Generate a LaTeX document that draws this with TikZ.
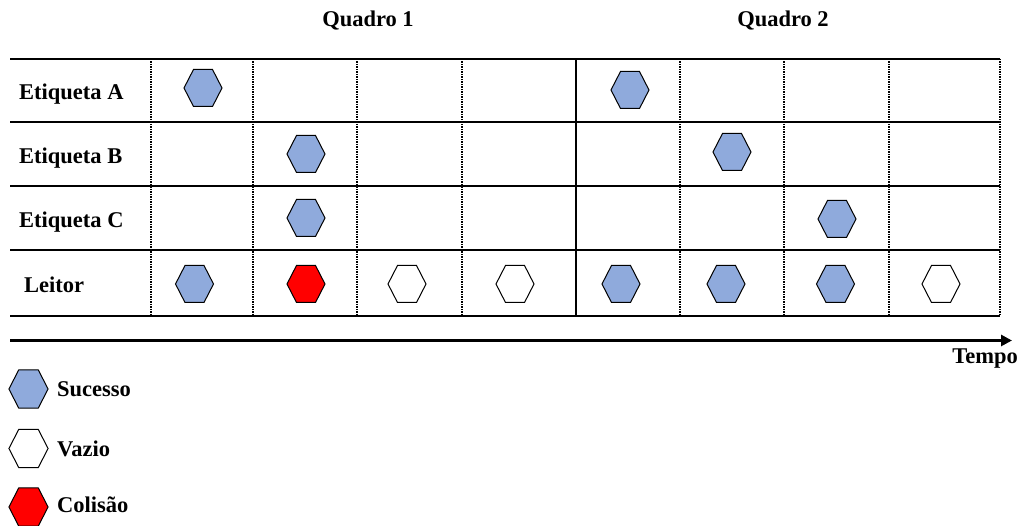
\documentclass[tikz,border=0pt]{standalone}
\usepackage{fontspec}
\setmainfont{Liberation Serif}
\usetikzlibrary{arrows.meta}
\definecolor{sucblue}{HTML}{8FAADC}
\definecolor{colred}{HTML}{FF0000}
\tikzset{
  hexline/.style={draw=black, line width=1pt, line join=miter},
  rowline/.style={line width=2.2pt},
  slotline/.style={line width=1.5pt, dash pattern=on 1.3pt off 1.2pt},
  frameline/.style={line width=2.2pt},
  lbl/.style={font=\bfseries\fontsize{22.5}{26}\selectfont, inner sep=0pt},
}
\newcommand\hexa[4][1]{%
  \coordinate (#2) at (#3);
  \draw[hexline, fill=#4] (#2) ++(-19*#1,0) -- ++(9.5*#1,-18.5*#1) -- ++(19*#1,0)
     -- ++(9.5*#1,18.5*#1) -- ++(-9.5*#1,18.5*#1) -- ++(-19*#1,0) -- cycle;}
\begin{document}
\begin{tikzpicture}[x=1pt,y=-1pt]
\useasboundingbox (0,0) rectangle (1021,526);
% headers
\node[lbl, anchor=base] (q1) at (368,27) {Quadro 1};
\node[lbl, anchor=base] (q2) at (783,27) {Quadro 2};
% horizontal lines
\foreach \yy [count=\i] in {59,122,186,250,316}
  \draw[rowline] (10,\yy) coordinate (hl\i) -- (1000,\yy) coordinate (hr\i);
% dotted slot lines
\foreach \xx [count=\i] in {151,253,357,462,680,784,889,1000}
  \draw[slotline] (\xx,59) coordinate (vt\i) -- (\xx,316) coordinate (vb\i);
% frame separator
\draw[frameline] (576,59) coordinate (ft) -- (576,316) coordinate (fb);
% row labels
\node[lbl, anchor=base west] (la) at (19,99.5) {Etiqueta A};
\node[lbl, anchor=base west] (lb) at (19,163.5) {Etiqueta B};
\node[lbl, anchor=base west] (lc) at (19,227.5) {Etiqueta C};
\node[lbl, anchor=base west] (lr) at (24,293) {Leitor};
% hexagons: rows
\hexa{a1}{203,88}{sucblue}
\hexa{a5}{630,90}{sucblue}
\hexa{b2}{306,154}{sucblue}
\hexa{b6}{732,152}{sucblue}
\hexa{c2}{306,218}{sucblue}
\hexa{c7}{837,219}{sucblue}
\hexa{r1}{194.5,284}{sucblue}
\hexa{r2}{306,284}{colred}
\hexa{r3}{407,284}{white}
\hexa{r4}{515,284}{white}
\hexa{r5}{621,284}{sucblue}
\hexa{r6}{726,284}{sucblue}
\hexa{r7}{835.5,284}{sucblue}
\hexa{r8}{941,284}{white}
% time arrow
\coordinate (ts) at (10,340.5);
\coordinate (te) at (1012,340.5);
\draw[line width=3.2pt, -{Triangle[length=11pt,width=11pt]}] (ts) -- (te);
\node[lbl, anchor=base east] (tempo) at (1018,364) {Tempo};
% legend
\hexa[1.03]{ls}{28.5,389}{sucblue}
\hexa[1.03]{lv}{28.5,448.5}{white}
\hexa[1.03]{lcol}{28.5,507}{colred}
\node[lbl, anchor=base west] (lsuc) at (57,397) {Sucesso};
\node[lbl, anchor=base west] (lvaz) at (57,456.5) {Vazio};
\node[lbl, anchor=base west] (lcl) at (57,513) {Colisão};
\end{tikzpicture}
\end{document}
